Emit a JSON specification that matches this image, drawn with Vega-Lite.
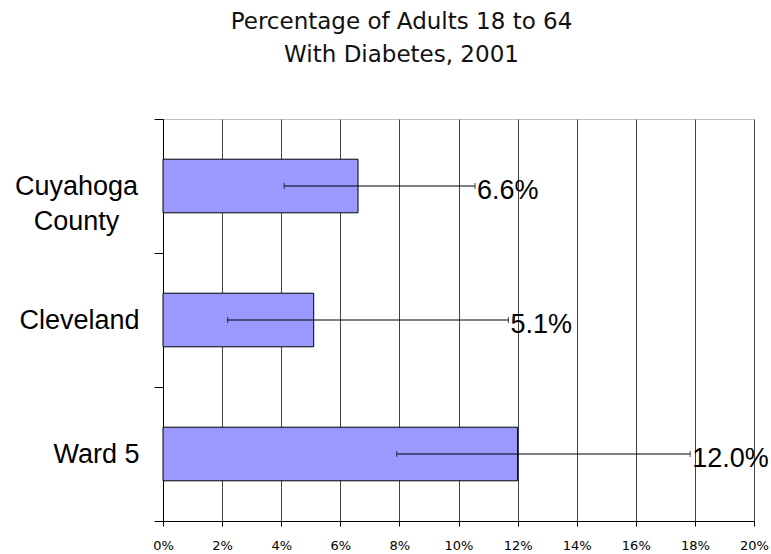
{
  "$schema": "https://vega.github.io/schema/vega-lite/v6.json",
  "width": 591,
  "height": 402,
  "autosize": {"type": "none"},
  "padding": {"left": 163, "top": 119, "right": 17, "bottom": 33},
  "background": "white",
  "title": {
    "text": ["Percentage of Adults 18 to 64", "With Diabetes, 2001"],
    "font": "DejaVu Sans",
    "fontSize": 23,
    "fontWeight": "normal",
    "color": "#111111",
    "anchor": "middle",
    "frame": "group",
    "baseline": "bottom",
    "offset": 15,
    "dx": -57,
    "lineHeight": 33
  },
  "config": {"view": {"stroke": "#c0c0c0", "strokeWidth": 1}},
  "data": {
    "values": [
      {"area": "Cuyahoga County", "pct": 0.066, "lo": 0.041, "hi": 0.1056},
      {"area": "Cleveland", "pct": 0.051, "lo": 0.0219, "hi": 0.1169},
      {"area": "Ward 5", "pct": 0.12, "lo": 0.0791, "hi": 0.1784}
    ]
  },
  "encoding": {
    "y": {
      "field": "area",
      "type": "nominal",
      "sort": null,
      "scale": {"paddingInner": 0, "paddingOuter": 0},
      "axis": {
        "title": null,
        "tickBand": "extent",
        "tickSize": 9,
        "tickColor": "#000000",
        "domainColor": "#000000",
        "labelFont": "Liberation Sans",
        "labelFontSize": 27,
        "labelColor": "#000000",
        "labelAlign": {"condition": {"test": "datum.value == 'Cuyahoga County'", "value": "center"}, "value": "right"},
        "labelPadding": {"condition": {"test": "datum.value == 'Cuyahoga County'", "value": 78}, "value": 15},
        "labelLineHeight": 35,
        "labelLimit": 0,
        "labelExpr": "datum.value == 'Cuyahoga County' ? ['Cuyahoga', 'County'] : datum.value",
        "grid": false
      }
    }
  },
  "layer": [
    {
      "mark": {"type": "bar", "height": {"band": 0.4}, "fill": "#9999ff", "stroke": "#000000", "strokeWidth": 1},
      "encoding": {
        "x": {
          "field": "pct",
          "type": "quantitative",
          "scale": {"domain": [0, 0.2], "nice": false, "zero": true},
          "axis": {
            "title": null,
            "values": [0, 0.02, 0.04, 0.06, 0.08, 0.1, 0.12, 0.14, 0.16, 0.18, 0.2],
            "format": ".0%",
            "grid": true,
            "gridColor": "#444444",
            "gridWidth": 1,
            "gridOpacity": 1,
            "domainColor": "#000000",
            "tickColor": "#000000",
            "tickSize": 5,
            "labelFont": "DejaVu Sans",
            "labelFontSize": 13,
            "labelColor": "#000000",
            "labelPadding": 13,
            "labelFlush": false,
            "labelOverlap": false
          }
        }
      }
    },
    {
      "mark": {"type": "rule", "color": "#000000", "strokeWidth": 1},
      "encoding": {
        "x": {"field": "lo", "type": "quantitative"},
        "x2": {"field": "hi"}
      }
    },
    {
      "mark": {"type": "tick", "color": "#000000", "thickness": 1, "size": 6},
      "encoding": {"x": {"field": "lo", "type": "quantitative"}}
    },
    {
      "mark": {"type": "tick", "color": "#000000", "thickness": 1, "size": 6},
      "encoding": {"x": {"field": "hi", "type": "quantitative"}}
    },
    {
      "mark": {"type": "text", "align": "left", "baseline": "middle", "dx": 2, "dy": 5, "font": "Liberation Sans", "fontSize": 27, "color": "#000000"},
      "encoding": {
        "x": {"field": "hi", "type": "quantitative"},
        "text": {"field": "pct", "type": "quantitative", "format": ".1%"}
      }
    }
  ]
}
